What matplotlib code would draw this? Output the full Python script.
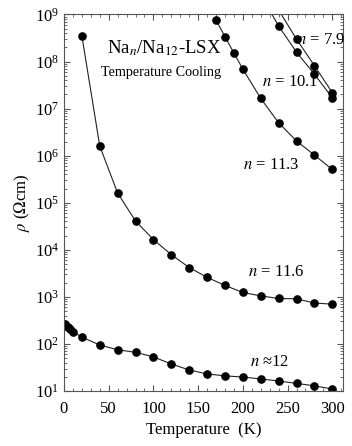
import matplotlib
matplotlib.use("Agg")
import matplotlib.pyplot as plt
from matplotlib.ticker import MultipleLocator, LogLocator, NullFormatter

plt.rcParams['font.family'] = ['Liberation Serif', 'DejaVu Serif']
plt.rcParams['mathtext.fontset'] = 'stix'

# n ~ 12
t_12 = [1, 4, 7, 10, 20, 40, 60, 80, 100, 120, 140, 160, 180, 200, 220, 240, 260, 280, 300]
rho_12 = [267, 231, 209, 183, 139, 95, 75, 66.5, 53, 37.5, 28, 23, 21, 19.8, 18, 16.3, 14.5, 12.9, 11]

# n = 11.6
t_116 = [20, 40, 60, 80, 100, 120, 140, 160, 180, 200, 220, 240, 260, 280, 300]
rho_116 = [3.5e8, 1.6e6, 1.6e5, 4.1e4, 1.65e4, 7.9e3, 4.2e3, 2.6e3, 1.75e3, 1.24e3,
           1.05e3, 925, 910, 740, 700]

# n = 11.3
t_113 = [170, 180, 190, 200, 220, 240, 260, 280, 300]
rho_113 = [7.6e8, 3.4e8, 1.52e8, 6.9e7, 1.65e7, 5.0e6, 2.06e6, 1.03e6, 5.1e5]

# n = 10.1
t_101 = [220, 240, 260, 280, 300]
rho_101 = [2.6e9, 5.7e8, 1.58e8, 5.4e7, 1.7e7]

# n = 7.9
t_79 = [240, 260, 280, 300]
rho_79 = [1.25e9, 3.0e8, 8.2e7, 2.2e7]

series = [(t_12, rho_12), (t_116, rho_116), (t_113, rho_113),
          (t_101, rho_101), (t_79, rho_79)]

fig = plt.figure(figsize=(3.52, 4.46), dpi=100)
ax = fig.add_axes([64 / 352, 1 - 391 / 446, (343 - 64) / 352, (391 - 14.5) / 446])

for t, rho in series:
    ax.plot(t, rho, color='#222222', lw=0.8, marker='o', ms=5.2,
            mfc='black', mec='black')

ax.set_yscale('log')
ax.set_xlim(0, 312)
ax.set_ylim(10, 1e9)

ax.xaxis.set_major_locator(MultipleLocator(50))
ax.xaxis.set_minor_locator(MultipleLocator(10))
ax.yaxis.set_major_locator(LogLocator(base=10, numticks=20))
ax.yaxis.set_minor_locator(LogLocator(base=10, subs=range(2, 10), numticks=20))
ax.yaxis.set_minor_formatter(NullFormatter())

ax.tick_params(which='both', direction='in', top=True, right=True,
               labelsize=12, color='#555555')
ax.tick_params(which='major', length=4, width=0.8)
ax.tick_params(which='minor', length=2.5, width=0.6)
ax.tick_params(axis='x', pad=7)
for sp in ax.spines.values():
    sp.set_color('#555555')
    sp.set_linewidth(0.8)

ax.set_xlabel('Temperature  (K)', fontsize=12, labelpad=4)
ax.set_ylabel(r'$\rho$ ($\Omega$cm)', fontsize=12, labelpad=2)

ax.text(48, 1.9e8, r'Na$_{n}$/Na$_{12}$-LSX', fontsize=13.5, va='center')
ax.text(41.5, 6.0e7, 'Temperature Cooling', fontsize=10.2, va='center')

lab = dict(fontsize=12, va='center')
ax.text(261, 2.9e8, r'$n$ = 7.9', **lab)
ax.text(221, 3.7e7, r'$n$ = 10.1', **lab)
ax.text(200, 6.3e5, r'$n$ = 11.3', **lab)
ax.text(206, 3.3e3, r'$n$ = 11.6', **lab)
ax.text(208, 41, r'$n$ ≈12', **lab)

fig.savefig('out.png', dpi=100)
